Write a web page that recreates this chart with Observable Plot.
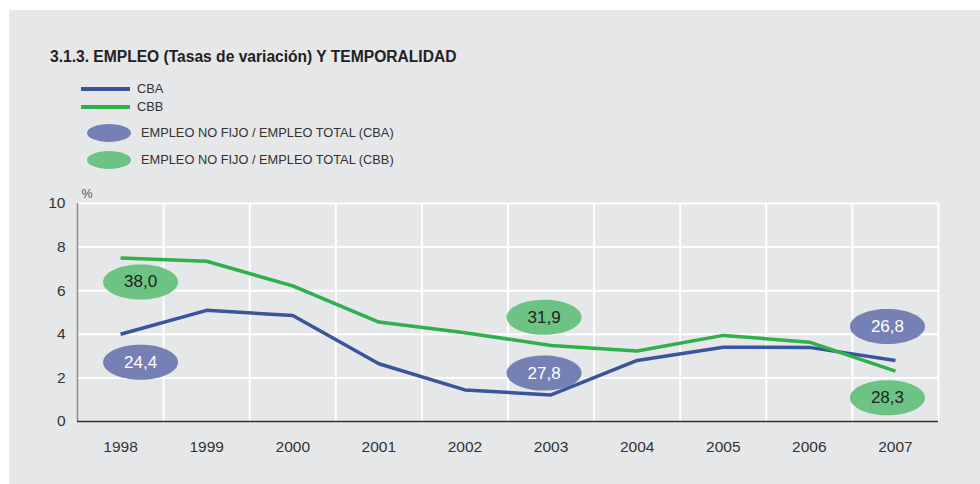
<!DOCTYPE html>
<html>
<head>
<meta charset="utf-8">
<script src="https://cdn.jsdelivr.net/npm/d3@7"></script>
<script src="https://cdn.jsdelivr.net/npm/@observablehq/plot@0.6"></script>
<style>
  html, body { margin: 0; padding: 0; background: #ffffff; }
  body { width: 980px; height: 484px; position: relative; overflow: hidden;
         font-family: "Liberation Sans", Arial, Helvetica, sans-serif; color: #222; }
  #panel { position: absolute; left: 9px; top: 10px; width: 971px; height: 474px; background: #e6e7e8; }
  #title { position: absolute; left: 41px; top: 38px; font-size: 15.6px; font-weight: bold; color: #222; }
  .leg { position: absolute; font-size: 12.8px; color: #333; white-space: nowrap; }
  .legline { position: absolute; width: 49px; height: 4px; }
  .legell { position: absolute; width: 44px; height: 18px; border-radius: 50%; }
  #chart { position: absolute; left: 0; top: 170px; }
</style>
</head>
<body>
<div id="panel">
  <div id="title">3.1.3. EMPLEO (Tasas de variación) Y TEMPORALIDAD</div>
  <div id="legend"></div>
  <div id="chart"></div>
</div>
<script>
// ---- data ----
const years = [1998, 1999, 2000, 2001, 2002, 2003, 2004, 2005, 2006, 2007];
const seriesNames = ["CBA", "CBB"];
const cba = [4.0, 5.1, 4.86, 2.65, 1.45, 1.22, 2.8, 3.41, 3.4, 2.8];
const cbb = [7.5, 7.35, 6.22, 4.56, 4.07, 3.49, 3.23, 3.95, 3.64, 2.31];
const yTicks = [0, 2, 4, 6, 8, 10];
// temporalidad labels (EMPLEO NO FIJO / EMPLEO TOTAL)
const labelYears = [1998, 1998, 2003, 2003, 2007, 2007];
const labelSeries = ["CBB", "CBA", "CBB", "CBA", "CBA", "CBB"];
const labelValues = ["38,0", "24,4", "31,9", "27,8", "26,8", "28,3"];
const labelLevels = [6.4, 2.72, 4.78, 2.22, 4.36, 1.09];
const legendNames = ["CBA", "CBB", "EMPLEO NO FIJO / EMPLEO TOTAL (CBA)", "EMPLEO NO FIJO / EMPLEO TOTAL (CBB)"];

// ---- styles ----
const lineColor = {CBA: "#3a559b", CBB: "#2eb04a"};
const ellColor = {CBA: "#7581b5", CBB: "#6dc383"};
const ellText = {CBA: "#ffffff", CBB: "#222222"};
const labelDx = {1998: 20, 2003: -7, 2007: -8};

// ---- legend (HTML) ----
const legend = document.getElementById("legend");
function addLegend(html) { legend.insertAdjacentHTML("beforeend", html); }
addLegend(`<div class="legline" style="left:72px;top:77px;background:${lineColor.CBA}"></div>`);
addLegend(`<div class="leg" style="left:128px;top:71px">${legendNames[0]}</div>`);
addLegend(`<div class="legline" style="left:72px;top:95px;background:${lineColor.CBB}"></div>`);
addLegend(`<div class="leg" style="left:128px;top:89px">${legendNames[1]}</div>`);
addLegend(`<div class="legell" style="left:78px;top:114px;background:${ellColor.CBA}"></div>`);
addLegend(`<div class="leg" style="left:132px;top:115px">${legendNames[2]}</div>`);
addLegend(`<div class="legell" style="left:78px;top:141px;background:${ellColor.CBB}"></div>`);
addLegend(`<div class="leg" style="left:132px;top:142px">${legendNames[3]}</div>`);

// ---- tables ----
const lineData = [];
years.forEach((yr, i) => {
  lineData.push({year: yr, series: "CBA", value: cba[i]});
  lineData.push({year: yr, series: "CBB", value: cbb[i]});
});
const labels = labelYears.map((yr, i) => ({
  year: yr, series: labelSeries[i], text: labelValues[i], level: labelLevels[i]
}));
const bounds = years.map(y => y - 0.5).concat([years[years.length - 1] + 0.5]);

// ellipse symbol
const RX = 37.5, RY = 17.5, K = 0.5523;
const ellipse = {
  draw(ctx) {
    ctx.moveTo(RX, 0);
    ctx.bezierCurveTo(RX, K * RY, K * RX, RY, 0, RY);
    ctx.bezierCurveTo(-K * RX, RY, -RX, K * RY, -RX, 0);
    ctx.bezierCurveTo(-RX, -K * RY, -K * RX, -RY, 0, -RY);
    ctx.bezierCurveTo(K * RX, -RY, RX, -K * RY, RX, 0);
    ctx.closePath();
  }
};

const font = "Liberation Sans, Arial, Helvetica, sans-serif";

const plot = Plot.plot({
  width: 971,
  height: 300,
  marginLeft: 68,
  marginRight: 42,
  marginTop: 23,
  marginBottom: 59,
  style: {background: "transparent", fontFamily: font, fontSize: "14px", color: "#333"},
  x: {domain: [years[0] - 0.5, years[years.length - 1] + 0.5], ticks: years, tickFormat: "d",
      tickSize: 0, tickPadding: 17, label: null},
  y: {domain: [0, 10], ticks: yTicks, tickSize: 0, tickPadding: 12, label: null},
  marks: [
    Plot.ruleY(yTicks.filter(d => d > 0), {stroke: "#ffffff", strokeWidth: 2}),
    Plot.ruleX(bounds.slice(1), {y1: 0, y2: 10, stroke: "#ffffff", strokeWidth: 2}),
    Plot.ruleX([bounds[0]], {y1: 0, y2: 10, stroke: "#8a8a8a", strokeWidth: 1.5}),
    Plot.ruleY([0], {stroke: "#333333", strokeWidth: 1.5}),
    Plot.axisY({ticks: yTicks, tickSize: 0, tickPadding: 12, fontSize: 15.5, fill: "#333"}),
    Plot.axisX({ticks: years, tickFormat: "d", tickSize: 0, tickPadding: 19, fontSize: 15.5, fill: "#333"}),
    Plot.text(["%"], {frameAnchor: "top-left", dx: 4, dy: -14, fontSize: 12.5, fill: "#555", textAnchor: "start"}),
    Plot.line(lineData, {x: "year", y: "value", z: "series", stroke: d => lineColor[d.series],
      strokeWidth: 3.5, strokeLinejoin: "miter", strokeLinecap: "butt"}),
    Plot.dot(labels, {x: "year", y: "level", symbol: ellipse, r: 10, fill: d => ellColor[d.series],
      stroke: "none",
      render: (index, scales, values, dims, ctx, next) => {
        const g = next(index, scales, values, dims, ctx);
        d3.select(g).selectAll("path").each(function(_, j) {
          const i = index[j];
          const dx = labelDx[labels[i].year] || 0;
          const t = this.getAttribute("transform") || "";
          this.setAttribute("transform", `translate(${dx},0) ` + t);
        });
        return g;
      }}),
    ...Object.keys(labelDx).map(yr => Plot.text(labels.filter(d => d.year === +yr), {
      x: "year", y: "level", text: "text", dx: labelDx[yr], fontSize: 17,
      fill: d => ellText[d.series]}))
  ]
});
document.getElementById("chart").appendChild(plot);
</script>
</body>
</html>
